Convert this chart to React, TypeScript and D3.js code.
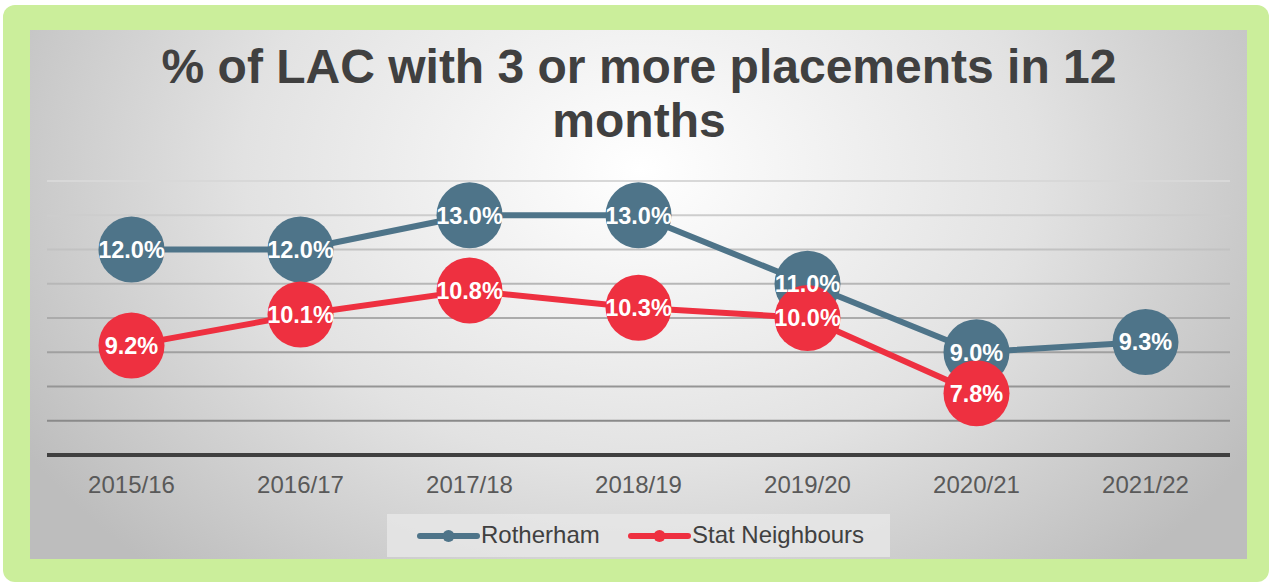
import React from "react";
import * as d3 from "d3";

const categories = ["2015/16", "2016/17", "2017/18", "2018/19", "2019/20", "2020/21", "2021/22"];
const rotherham: (number | null)[] = [12.0, 12.0, 13.0, 13.0, 11.0, 9.0, 9.3];
const statNeighbours: (number | null)[] = [9.2, 10.1, 10.8, 10.3, 10.0, 7.8, null];
const yTicks = [6, 7, 8, 9, 10, 11, 12, 13, 14];
const seriesNames = ["Rotherham", "Stat Neighbours"];
const titleLines = ["% of LAC with 3 or more placements in 12", "months"];

const W = 1272;
const H = 583;
const BLUE = "#4E7489";
const RED = "#EE3040";
const FONT = "'Liberation Sans', Arial, sans-serif";

export default function App() {
  const x = d3.scaleBand<string>().domain(categories).range([47, 1230]);
  const y = d3.scaleLinear().domain([6, 14]).range([455, 181]);
  const cx = (c: string) => (x(c) as number) + x.bandwidth() / 2;

  const line = d3
    .line<{ c: string; v: number | null }>()
    .defined((d) => d.v !== null)
    .x((d) => cx(d.c))
    .y((d) => y(d.v as number));

  const series = [
    { name: seriesNames[0], values: rotherham, color: BLUE },
    { name: seriesNames[1], values: statNeighbours, color: RED },
  ].map((s) => ({ ...s, pts: categories.map((c, i) => ({ c, v: s.values[i] })) }));

  const gridColor = d3.scaleLinear<string>().domain([14, 7]).range(["#d8d8d8", "#8a8a8a"]);

  return (
    <svg
      width={W}
      height={H}
      style={{ position: "absolute", left: 0, top: 0, fontFamily: FONT }}
    >
      <defs>
        <radialGradient id="bg" cx="640" cy="170" r="720" gradientUnits="userSpaceOnUse" gradientTransform="translate(640 170) scale(1 0.75) translate(-640 -170)">
          <stop offset="0" stopColor="#ffffff" />
          <stop offset="0.55" stopColor="#e2e2e2" />
          <stop offset="1" stopColor="#bdbdbd" />
        </radialGradient>
      </defs>
      <rect x={3} y={5} width={1266} height={577} rx={12} fill="#CBEE9B" />
      <rect x={30} y={30} width={1217} height={529} fill="url(#bg)" />

      {titleLines.map((t, i) => (
        <text
          key={i}
          x={639}
          y={83 + i * 54}
          textAnchor="middle"
          fontSize={48}
          fontWeight="bold"
          fill="#404040"
        >
          {t}
        </text>
      ))}

      {yTicks.slice(1).map((t) => (
        <line key={t} x1={47} x2={1230} y1={y(t)} y2={y(t)} stroke={gridColor(t)} strokeWidth={2} />
      ))}
      <line x1={47} x2={1230} y1={y(6)} y2={y(6)} stroke="#404040" strokeWidth={4} />

      {categories.map((c) => (
        <text key={c} x={cx(c)} y={493} textAnchor="middle" fontSize={24} fill="#595959">
          {c}
        </text>
      ))}

      {series.map((s) => (
        <path
          key={s.name}
          d={line(s.pts) || ""}
          fill="none"
          stroke={s.color}
          strokeWidth={6}
          strokeLinejoin="round"
          strokeLinecap="round"
        />
      ))}
      {series.map((s) =>
        s.pts
          .filter((p) => p.v !== null)
          .map((p) => <circle key={s.name + p.c} cx={cx(p.c)} cy={y(p.v as number)} r={33} fill={s.color} />)
      )}
      {series.map((s) =>
        s.pts
          .filter((p) => p.v !== null)
          .map((p) => (
            <text
              key={s.name + p.c + "t"}
              x={cx(p.c)}
              y={y(p.v as number)}
              dy="0.36em"
              textAnchor="middle"
              fontSize={23.5}
              fontWeight="bold"
              fill="#ffffff"
            >
              {(p.v as number).toFixed(1) + "%"}
            </text>
          ))
      )}

      <rect x={387} y={514} width={503} height={43} fill="#e6e6e6" opacity={0.85} />
      {series.map((s, i) => {
        const lx = i === 0 ? 420 : 631;
        return (
          <g key={s.name}>
            <line x1={lx} x2={lx + 57} y1={536} y2={536} stroke={s.color} strokeWidth={6} strokeLinecap="round" />
            <circle cx={lx + 28.5} cy={536} r={6} fill={s.color} />
            <text x={lx + 61} y={543} fontSize={24} fill="#404040">
              {s.name}
            </text>
          </g>
        );
      })}
    </svg>
  );
}
